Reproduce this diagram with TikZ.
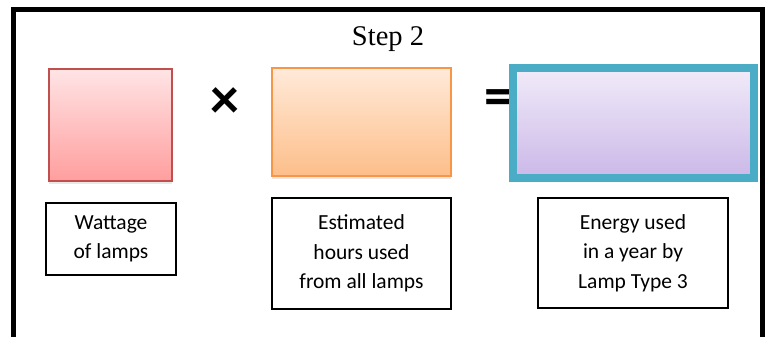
\documentclass[tikz,border=0pt]{standalone}
\usepackage{fontspec}
\setmainfont{Liberation Serif}
\newfontfamily\calibri{Carlito}
\usetikzlibrary{shadows}
\definecolor{brick}{RGB}{192,80,77}
\definecolor{pinktop}{RGB}{255,228,229}
\definecolor{pinkbot}{RGB}{255,158,158}
\definecolor{tangerine}{RGB}{247,150,70}
\definecolor{peachtop}{RGB}{255,234,217}
\definecolor{peachbot}{RGB}{253,190,138}
\definecolor{teal}{RGB}{75,172,198}
\definecolor{lilactop}{RGB}{241,235,249}
\definecolor{lilacbot}{RGB}{203,184,232}

\begin{document}
\begin{tikzpicture}[x=1pt, y=-1pt,
  valuebox/.style={draw, rectangle, inner sep=0pt,
    drop shadow={opacity=0.18, shadow xshift=0pt, shadow yshift=-3pt}},
  namebox/.style={draw, rectangle, line width=1.6pt, inner sep=0pt, align=center,
    font=\calibri\fontsize{21.5}{29.5}\selectfont},
  sign/.style={inner sep=0pt, font=\calibri\bfseries\fontsize{58}{58}\selectfont}]
\useasboundingbox (0,0) rectangle (769,337);

% Frame, open at the bottom
\draw[line width=5pt, miter limit=10] (13,337) -- (13,9.5) -- (762.5,9.5) -- (762.5,337);
\node[font=\fontsize{28.5}{30}\selectfont] (title) at (388,39) {Step 2};

% Factors and result
\node[valuebox, line width=2pt, color=brick, top color=pinktop, bottom color=pinkbot,
  minimum width=123pt, minimum height=112pt] (watt) at (110.5,125) {};
\node[sign] (times) at (225,103) {×};
\node[valuebox, line width=2pt, color=tangerine, top color=peachtop, bottom color=peachbot,
  minimum width=179pt, minimum height=108pt] (hours) at (361.5,122) {};
\node[sign] (equals) at (499,103) {=};
\node[valuebox, line width=8pt, color=teal, top color=lilactop, bottom color=lilacbot,
  minimum width=240.5pt, minimum height=109.5pt] (energy) at (633.25,122.75) {};

% Labels under the boxes
\node[namebox, minimum width=130pt, minimum height=72pt] (wattlbl) at (111,239) {Wattage\\of lamps};
\node[namebox, minimum width=179pt, minimum height=111pt] (hourslbl) at (361.5,253.5) {Estimated\\hours used\\from all lamps};
\node[namebox, minimum width=190pt, minimum height=110pt] (energylbl) at (633,253) {Energy used\\in a year by\\Lamp Type 3};
\end{tikzpicture}
\end{document}
